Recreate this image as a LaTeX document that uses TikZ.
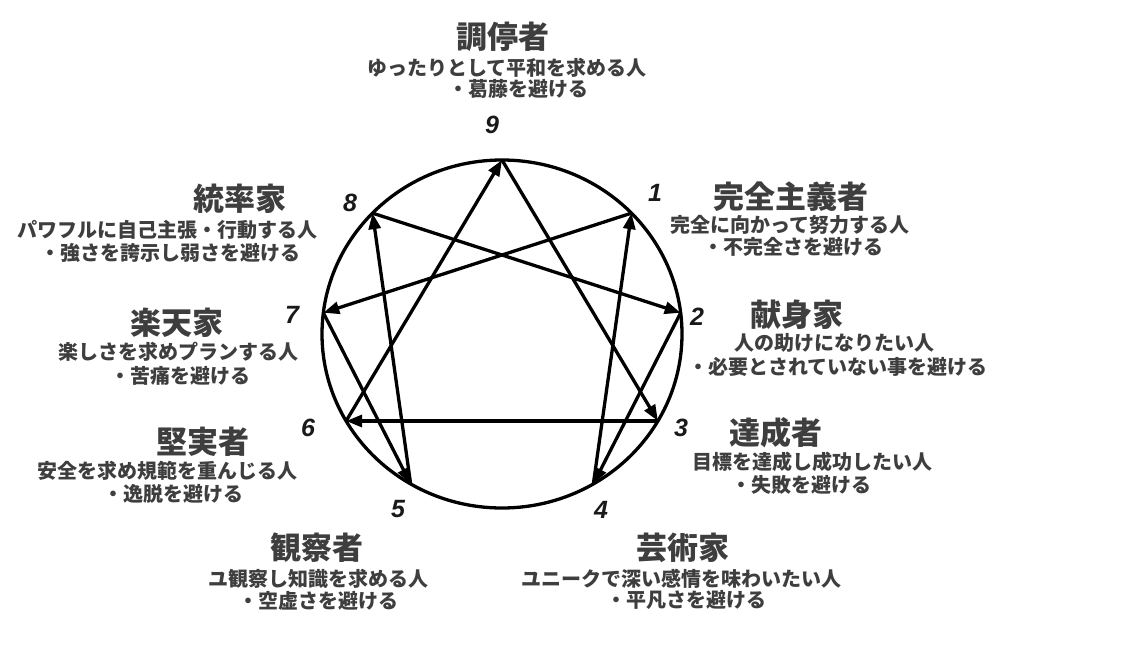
\documentclass[tikz,border=0pt]{standalone}
\usepackage{fontspec}
\newfontfamily\jp{Noto Sans CJK JP}
\newfontfamily\numf{Liberation Sans}
\usetikzlibrary{arrows.meta}
\definecolor{txt}{RGB}{62,62,62}
\tikzset{
  ttl/.style={text=txt,inner sep=0pt,font=\jp\bfseries\fontsize{31}{31}\selectfont},
  dsc/.style={text=txt,inner sep=0pt,font=\jp\bfseries\fontsize{20}{20}\selectfont},
  num/.style={text=black!90,inner sep=0pt,font=\numf\bfseries\itshape\fontsize{25}{25}\selectfont},
  edge/.style={line width=3.3pt,-{Triangle[length=16pt,width=12pt]}},
}
\begin{document}
\begin{tikzpicture}[x=1pt,y=-1pt]
\useasboundingbox (0,0) rectangle (1146,646);
\fill[white] (0,0) rectangle (1146,646);
% points on the circle
\foreach \n/\a in {9/90,1/44,2/7,3/-30,4/-59.5,5/-120.5,6/210,7/173,8/136}
  \coordinate (p\n) at ({502+180*cos(\a)},{334-174*sin(\a)});
\draw[line width=3.3pt] (502,334) ellipse [x radius=180pt, y radius=174pt];
% connectors
\draw[edge] (p9) -- (p3);
\draw[edge] (p3) -- (p6);
\draw[edge] (p6) -- (p9);
\draw[edge] (p1) -- (p7);
\draw[edge] (p7) -- (p5);
\draw[edge] (p5) -- (p8);
\draw[edge] (p8) -- (p2);
\draw[edge] (p2) -- (p4);
\draw[edge] (p4) -- (p1);
% numbers
\node[num] (n9) at (492,125) {9};
\node[num] (n1) at (655,193) {1};
\node[num] (n8) at (350,203) {8};
\node[num] (n2) at (697,317) {2};
\node[num] (n7) at (292,315) {7};
\node[num] (n3) at (681,428) {3};
\node[num] (n6) at (308,428) {6};
\node[num] (n5) at (398,509) {5};
\node[num] (n4) at (601,510) {4};
% texts
\node[ttl] (t9) at (503,37) {調停者};
\node[dsc] (d9a) at (507,68) {ゆったりとして平和を求める人};
\node[dsc] (d9b) at (518,89) {・葛藤を避ける};
\node[ttl] (t8) at (240,199) {統率家};
\node[dsc] (d8a) at (167,230) {パワフルに自己主張・行動する人};
\node[dsc] (d8b) at (170,253) {・強さを誇示し弱さを避ける};
\node[ttl] (t7) at (177,323) {楽天家};
\node[dsc] (d7a) at (178,352) {楽しさを求めプランする人};
\node[dsc] (d7b) at (180,376) {・苦痛を避ける};
\node[ttl] (t6) at (203,442) {堅実者};
\node[dsc] (d6a) at (167,471) {安全を求め規範を重んじる人};
\node[dsc] (d6b) at (173,494) {・逸脱を避ける};
\node[ttl] (t1) at (791,197) {完全主義者};
\node[dsc] (d1a) at (790,225) {完全に向かって努力する人};
\node[dsc] (d1b) at (793,247) {・不完全さを避ける};
\node[ttl] (t2) at (797,315) {献身家};
\node[dsc] (d2a) at (834,343) {人の助けになりたい人};
\node[dsc] (d2b) at (838,367) {・必要とされていない事を避ける};
\node[ttl] (t3) at (776,433) {達成者};
\node[dsc] (d3a) at (812,462) {目標を達成し成功したい人};
\node[dsc] (d3b) at (801,485) {・失敗を避ける};
\node[ttl] (t5) at (317,548) {観察者};
\node[dsc] (d5a) at (318,579) {ユ観察し知識を求める人};
\node[dsc] (d5b) at (318,601) {・空虚さを避ける};
\node[ttl] (t4) at (683,548) {芸術家};
\node[dsc] (d4a) at (681,579) {ユニークで深い感情を味わいたい人};
\node[dsc] (d4b) at (686,600) {・平凡さを避ける};
\end{tikzpicture}
\end{document}
